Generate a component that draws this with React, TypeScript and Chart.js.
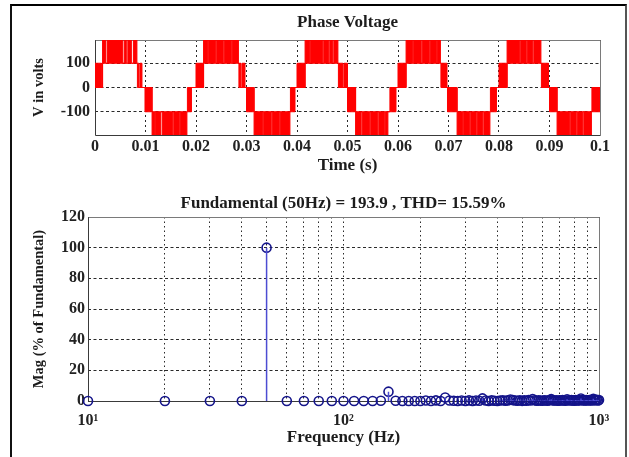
import React, { useEffect, useRef } from 'react';
import { Chart, registerables } from 'chart.js';

Chart.register(...registerables);

const SERIF = "'Liberation Serif', 'Times New Roman', serif";

// ---------- Top plot: Phase Voltage (PWM switching blocks) ----------
// each block: the voltage switches rapidly between blockLowV and blockHighV from start to end (ms)
const blockStartMs = [
  0.0, 1.5, 2.4, 5.8, 6.5, 7.6, 8.4, 8.9, 9.9, 11.3, 12.0, 13.3, 15.6, 16.9, 18.3,
  20.0, 21.5, 22.5, 24.1, 25.6, 27.2, 28.5, 29.1, 30.0, 31.5, 33.4, 35.1, 36.7, 38.7,
  40.0, 41.6, 42.7, 45.3, 46.5, 47.3, 48.2, 49.3, 50.0, 51.6, 52.9, 54.6, 56.2, 57.5, 58.4,
  60.0, 61.6, 63.1, 64.8, 66.4, 67.8, 68.5, 69.8, 71.7, 73.0, 74.4, 75.7, 77.0, 78.3,
  80.0, 81.6, 84.3, 85.6, 86.9, 88.4, 90.0, 91.5, 94.2, 95.5, 96.8, 98.4,
];
const blockEndMs = [
  1.3, 2.1, 5.5, 6.2, 7.2, 8.3, 8.7, 9.3, 11.2, 11.8, 13.0, 15.4, 16.7, 18.2, 19.1,
  21.4, 22.3, 23.9, 25.4, 27.0, 28.4, 28.9, 29.7, 31.4, 33.2, 34.9, 36.5, 38.6, 39.6,
  41.5, 42.5, 45.1, 46.3, 47.1, 48.1, 49.1, 50.0, 51.5, 52.7, 54.4, 56.0, 57.3, 58.0, 59.6,
  61.5, 62.9, 64.6, 66.2, 67.6, 68.4, 69.7, 71.6, 72.8, 74.2, 75.5, 76.8, 78.2, 79.5,
  81.5, 84.1, 85.4, 86.7, 88.3, 89.8, 91.4, 94.0, 95.3, 96.6, 98.3, 100.0,
];
const blockLowV = [
  0, 100, 100, 100, 100, 100, 0, 0, -100, -196, -196, -196, -196, -196, -100,
  0, 100, 100, 100, 100, 100, 0, 0, -100, -196, -196, -196, -196, -100,
  0, 100, 100, 100, 100, 100, 0, 0, -100, -196, -196, -196, -196, -196, -100,
  0, 100, 100, 100, 100, 100, 0, -100, -196, -196, -196, -196, -196, -100,
  0, 100, 100, 100, 100, 0, -100, -196, -196, -196, -196, -100,
];
const blockHighV = [
  100, 196, 196, 196, 196, 196, 100, 100, 0, -100, -100, -100, -100, -100, 0,
  100, 196, 196, 196, 196, 196, 100, 100, 0, -100, -100, -100, -100, 0,
  100, 196, 196, 196, 196, 196, 100, 100, 0, -100, -100, -100, -100, -100, 0,
  100, 196, 196, 196, 196, 196, 100, 0, -100, -100, -100, -100, -100, 0,
  100, 196, 196, 196, 196, 100, 0, -100, -100, -100, -100, 0,
];
const timeTicks = [0, 0.01, 0.02, 0.03, 0.04, 0.05, 0.06, 0.07, 0.08, 0.09, 0.1];
const timeTickLabels = ['0', '0.01', '0.02', '0.03', '0.04', '0.05', '0.06', '0.07', '0.08', '0.09', '0.1'];
const voltTicks = [-100, 0, 100];
const voltLimit = 196;

// ---------- Bottom plot: FFT spectrum ----------
const freqHz = [
  10, 20, 30, 40, 50, 60, 70, 80, 90, 100,
  110, 120, 130, 140, 150, 160, 170, 180, 190, 200,
  210, 220, 230, 240, 250, 260, 270, 280, 290, 300,
  310, 320, 330, 340, 350, 360, 370, 380, 390, 400,
  410, 420, 430, 440, 450, 460, 470, 480, 490, 500,
  510, 520, 530, 540, 550, 560, 570, 580, 590, 600,
  610, 620, 630, 640, 650, 660, 670, 680, 690, 700,
  710, 720, 730, 740, 750, 760, 770, 780, 790, 800,
  810, 820, 830, 840, 850, 860, 870, 880, 890, 900,
  910, 920, 930, 940, 950, 960, 970, 980, 990, 1000,
];
const magPct = [
  0, 0, 0, 0, 100, 0, 0, 0, 0, 0,
  0, 0, 0, 0.2, 6.1, 0.2, 0, 0, 0, 0,
  0.3, 0, 0.4, 0, 2.3, 0.3, 0.2, 0, 0.3, 0,
  0.4, 0, 0.3, 0.2, 1.7, 0.3, 0, 0.4, 0.2, 0,
  0.3, 0.5, 0.2, 0.4, 1.0, 0.6, 0.3, 0.2, 0.5, 0.1,
  0.4, 0.2, 0.6, 0.3, 1.3, 0.5, 0.2, 0.4, 0.3, 0.2,
  0.5, 0.3, 0.2, 0.6, 1.2, 0.4, 0.3, 0.5, 0.2, 0.4,
  0.3, 0.6, 0.4, 0.2, 1.1, 0.5, 0.3, 0.6, 0.4, 0.2,
  0.6, 0.3, 0.5, 0.4, 1.6, 0.7, 0.4, 0.3, 0.6, 0.5,
  0.4, 0.7, 0.5, 0.3, 1.4, 0.6, 0.5, 0.8, 0.4, 0.6,
];
const freqGridTicks = [10, 20, 30, 40, 50, 60, 70, 80, 90, 100, 200, 300, 400, 500, 600, 700, 800, 900, 1000];
const freqLabelValues = [10, 100, 1000];
const freqLabelTexts = ['10\u00B9', '10\u00B2', '10\u00B3'];
const magTicks = [0, 20, 40, 60, 80, 100, 120];

const framePlugin = {
  id: 'frame',
  beforeDatasetsDraw(chart: any) {
    const { ctx, chartArea: a } = chart;
    const l = Math.round(a.left) + 0.5;
    const t = Math.round(a.top) + 0.5;
    const r = Math.round(a.right) + 0.5;
    const b = Math.round(a.bottom) + 0.5;
    ctx.save();
    ctx.lineWidth = 1;
    ctx.strokeStyle = '#7a7a7a';
    ctx.beginPath();
    ctx.moveTo(l, t);
    ctx.lineTo(r, t);
    ctx.lineTo(r, b);
    ctx.stroke();
    ctx.strokeStyle = '#3a3a3a';
    ctx.beginPath();
    ctx.moveTo(l, t);
    ctx.lineTo(l, b);
    ctx.lineTo(r, b);
    ctx.stroke();
    ctx.restore();
  },
};

const tickFont = { family: SERIF, size: 16, weight: 'bold' as const };
const xTitleFont = { family: SERIF, size: 17, weight: 'bold' as const };
const yTitleFont = { family: SERIF, size: 14.5, weight: 'bold' as const };
const titleFont = { family: SERIF, size: 17, weight: 'bold' as const };

function buildVoltageEnvelope() {
  const upper: { x: number; y: number }[] = [];
  const lower: { x: number; y: number }[] = [];
  for (let i = 0; i < blockStartMs.length; i++) {
    const t0 = blockStartMs[i] / 1000;
    const t1 = blockEndMs[i] / 1000;
    const lo = blockLowV[i];
    const hi = blockHighV[i];
    const base = lo >= 0 ? lo : hi;
    upper.push({ x: t0, y: hi });
    lower.push({ x: t0, y: lo });
    upper.push({ x: t1, y: base });
    lower.push({ x: t1, y: base });
  }
  return { upper, lower };
}

export default function App() {
  const topRef = useRef<HTMLCanvasElement>(null);
  const botRef = useRef<HTMLCanvasElement>(null);

  useEffect(() => {
    Chart.defaults.color = '#1c1c1c';
    const env = buildVoltageEnvelope();
    const top = new Chart(topRef.current!, {
      type: 'line',
      data: {
        datasets: [
          {
            data: env.lower,
            stepped: true,
            borderColor: '#ff0000',
            borderWidth: 1,
            pointRadius: 0,
            fill: false,
          },
          {
            data: env.upper,
            stepped: true,
            borderColor: '#ff0000',
            backgroundColor: '#ff0000',
            borderWidth: 1,
            pointRadius: 0,
            fill: 0,
          },
        ],
      },
      options: {
        responsive: false,
        animation: false,
        devicePixelRatio: 1,
        events: [],
        layout: { padding: { left: 0, right: 29, top: 0, bottom: 0 } },
        plugins: {
          legend: { display: false },
          tooltip: { enabled: false },
          title: {
            display: true,
            text: 'Phase Voltage',
            font: titleFont,
            color: '#1c1c1c',
            fullSize: false,
            padding: { top: 12.8, bottom: 6.8 },
          },
        },
        scales: {
          x: {
            type: 'linear',
            min: 0,
            max: 0.1,
            afterBuildTicks: (s: any) => {
              s.ticks = timeTicks.map((v) => ({ value: v }));
            },
            afterFit: (s: any) => {
              s.height = 55;
            },
            ticks: {
              autoSkip: false,
              maxRotation: 0,
              padding: 2,
              font: tickFont,
              color: '#222',
              callback: (_v: any, i: number) => timeTickLabels[i],
            },
            grid: { color: '#2a2a2a', lineWidth: 1, drawTicks: false },
            border: { display: false, dash: [2, 3] },
            title: { display: true, text: 'Time (s)', font: xTitleFont, color: '#1c1c1c', padding: { top: 0, bottom: 14 } },
          },
          y: {
            type: 'linear',
            min: -voltLimit,
            max: voltLimit,
            afterBuildTicks: (s: any) => {
              s.ticks = voltTicks.map((v) => ({ value: v }));
            },
            afterFit: (s: any) => {
              s.width = 95;
            },
            ticks: { padding: 5, font: tickFont, color: '#222' },
            grid: { color: '#2a2a2a', lineWidth: 1, drawTicks: false },
            border: { display: false, dash: [3, 2.5] },
            title: { display: true, text: 'V in volts', font: yTitleFont, color: '#1c1c1c', padding: { top: 31, bottom: 0 } },
          },
        },
      },
      plugins: [framePlugin],
    } as any);

    const stemData: { x: number; y: number | null }[] = [];
    freqHz.forEach((f, i) => {
      if (magPct[i] > 0) {
        stemData.push({ x: f, y: 0 }, { x: f, y: magPct[i] }, { x: f, y: null });
      }
    });
    const markerData = freqHz.map((f, i) => ({ x: f, y: magPct[i] }));

    const bot = new Chart(botRef.current!, {
      type: 'line',
      data: {
        datasets: [
          {
            data: stemData,
            borderColor: '#4c4cd2',
            borderWidth: 1.5,
            pointRadius: 0,
            spanGaps: false,
            fill: false,
          },
          {
            data: markerData,
            showLine: false,
            pointRadius: 4.5,
            pointStyle: 'circle',
            pointBackgroundColor: 'rgba(0,0,0,0)',
            pointBorderColor: '#14148a',
            pointBorderWidth: 1.6,
            clip: false,
          },
        ],
      },
      options: {
        responsive: false,
        animation: false,
        devicePixelRatio: 1,
        events: [],
        layout: { padding: { left: 0, right: 30, top: 0, bottom: 0 } },
        plugins: {
          legend: { display: false },
          tooltip: { enabled: false },
          title: {
            display: true,
            text: 'Fundamental (50Hz) = 193.9 , THD= 15.59%',
            font: titleFont,
            color: '#1c1c1c',
            fullSize: false,
            padding: { top: 3, bottom: 3.6 },
          },
        },
        scales: {
          x: {
            type: 'logarithmic',
            min: 10,
            max: 1000,
            afterBuildTicks: (s: any) => {
              s.ticks = freqGridTicks.map((v) => ({ value: v }));
            },
            afterFit: (s: any) => {
              s.height = 56;
            },
            ticks: {
              autoSkip: false,
              maxRotation: 0,
              padding: 10,
              font: tickFont,
              color: '#222',
              callback: (v: any) => {
                const k = freqLabelValues.indexOf(Number(v));
                return k >= 0 ? freqLabelTexts[k] : '';
              },
            },
            grid: { color: '#2a2a2a', lineWidth: 1, drawTicks: false },
            border: { display: false, dash: [1.5, 3] },
            title: { display: true, text: 'Frequency (Hz)', font: xTitleFont, color: '#1c1c1c', padding: { top: 0, bottom: 9 } },
          },
          y: {
            type: 'linear',
            min: 0,
            max: 120,
            afterBuildTicks: (s: any) => {
              s.ticks = magTicks.map((v) => ({ value: v }));
            },
            afterFit: (s: any) => {
              s.width = 88;
            },
            ticks: { padding: 3, font: tickFont, color: '#222' },
            grid: { color: '#2a2a2a', lineWidth: 1, drawTicks: false },
            border: { display: false, dash: [3, 2.5] },
            title: { display: true, text: 'Mag (% of Fundamental)', font: yTitleFont, color: '#1c1c1c', padding: { top: 31, bottom: 0 } },
          },
        },
      },
      plugins: [framePlugin],
    } as any);

    return () => {
      top.destroy();
      bot.destroy();
    };
  }, []);

  return (
    <div style={{ position: 'absolute', left: 0, top: 0, width: 629, height: 457, overflow: 'hidden', background: '#fff' }}>
      <canvas ref={topRef} width={629} height={190} style={{ position: 'absolute', left: 0, top: 0, width: 629, height: 190 }} />
      <canvas ref={botRef} width={629} height={267} style={{ position: 'absolute', left: 0, top: 190, width: 629, height: 267 }} />
      <div
        style={{
          position: 'absolute',
          left: 10,
          top: 4,
          width: 613,
          height: 520,
          borderTop: '2px solid #000',
          borderLeft: '2px solid #111',
          borderRight: '2px solid #555',
          pointerEvents: 'none',
        }}
      />
    </div>
  );
}
